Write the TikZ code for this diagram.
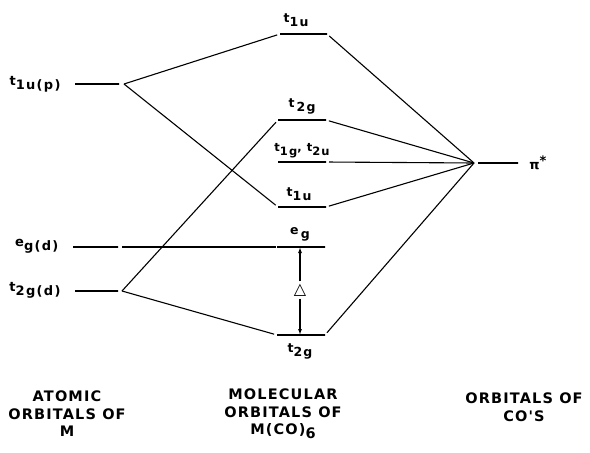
\documentclass[tikz,border=0pt]{standalone}
\usepackage{fontspec}
\setmainfont{DejaVu Sans}[LetterSpace=10]
\newfontfamily\symfont{DejaVu Sans}
\newfontfamily\capfont{DejaVu Sans}[LetterSpace=8]
\usetikzlibrary{arrows.meta}
\newcommand\lsb[1]{\raisebox{-4pt}{#1}}
\begin{document}
\begin{tikzpicture}[x=1pt,y=-1pt, line width=1.1pt,
  lvl/.style={draw, minimum width=#1, minimum height=0pt, inner sep=0pt, outer sep=0pt},
  lvl/.default=48pt,
  lab/.style={font=\bfseries\fontsize{12.5}{13}\selectfont, inner sep=1pt},
  conn/.style={shorten >=3pt},
  captxt/.style={font=\capfont\bfseries\fontsize{14.5}{17.5}\selectfont, align=center},
  arr/.style={-{Latex[length=6pt,width=4pt]}}]
\useasboundingbox (0,0) rectangle (590,453);
% atomic orbitals of M
\node[lvl=44pt] (a1) at (97,84) {};
\node[lvl=45pt] (a2) at (95.5,247) {};
\node[lvl=43pt] (a3) at (96.5,291) {};
\node[lab, font=\bfseries\fontsize{13}{14}\selectfont, anchor=east] (la1) at (62,84) {t\lsb{1u(p)}};
\node[lab, font=\bfseries\fontsize{13}{14}\selectfont, anchor=east] (la2) at (60,246) {e\lsb{g(d)}};
\node[lab, font=\bfseries\fontsize{13}{14}\selectfont, anchor=east] (la3) at (62,290) {t\lsb{2g(d)}};
% molecular orbitals
\node[lvl=47pt] (mo1) at (303.5,34) {};
\node[lvl] (mo2) at (302,120) {};
\node[lvl] (mo3) at (302,162) {};
\node[lvl] (mo4) at (302,207) {};
\node[lvl] (mo5) at (301,247) {};
\node[lvl] (mo6) at (301,335) {};
\node[lab] (lm1) at (296,20) {t\lsb{1u}};
\node[lab] (lm2) at (302,106) {t\,\lsb{2g}};
\node[lab, font=\bfseries\fontsize{11.5}{13}\selectfont] (lm3) at (302,151) {t\lsb{1g}, t\lsb{2u}};
\node[lab] (lm4) at (299,194) {t\lsb{1u}};
\node[lab] (lm5) at (300,234) {e\,\lsb{g}};
\node[lab] (lm6) at (300,351) {t\lsb{2g}};
% CO orbitals
\coordinate (J) at (474,163);
\node[lvl=40pt] (pi) at (498,163) {};
\node[lab, font=\symfont\bfseries\fontsize{13}{14}\selectfont] (lpi) at (538,163) {π\raisebox{4pt}{*}};
% connectors
\draw[conn] ([xshift=5pt]a1.east) -- (mo1.west);
\draw[conn] ([xshift=5pt]a1.east) -- (mo4.west);
\draw[shorten >=1pt] ([xshift=4pt]a2.east) -- (mo5.west);
\draw[conn] ([xshift=4pt]a3.east) -- (mo2.west);
\draw[conn] ([xshift=4pt]a3.east) -- (mo6.west);
\draw[shorten <=3pt] (mo1.east) -- (J);
\draw[shorten <=3pt] (mo2.east) -- (J);
\draw[shorten <=3pt] (mo3.east) -- (J);
\draw[shorten <=3pt] (mo4.east) -- (J);
\draw[shorten <=3pt] (mo6.east) -- (J);
% Delta
\node[font=\symfont\fontsize{16}{16}\selectfont, inner sep=2pt] (delta) at (300,290) {△};
\draw[arr] (delta) -- (delta |- mo5.south);
\draw[arr] (delta) -- (delta |- mo6.north);
% captions
\node[captxt] (c1) at (67,414) {ATOMIC\\ORBITALS OF\\M};
\node[captxt] (c2) at (283,414) {MOLECULAR\\ORBITALS OF\\M(CO)\lsb{6}};
\node[captxt] (c3) at (524,407) {ORBITALS OF\\CO'S};
\end{tikzpicture}
\end{document}
